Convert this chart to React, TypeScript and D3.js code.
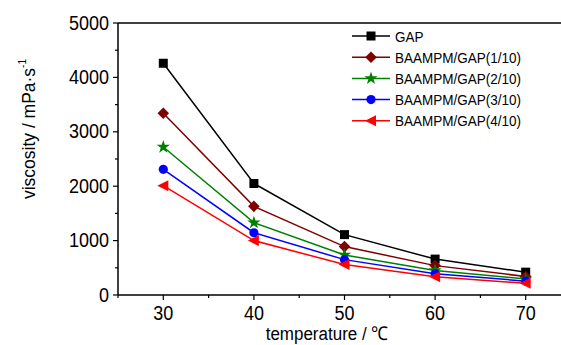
import * as d3 from "d3";

const temperatures = [30, 40, 50, 60, 70];
const gap = [4260, 2050, 1110, 660, 420];
const ratio110 = [3340, 1630, 890, 540, 340];
const ratio210 = [2720, 1330, 735, 450, 295];
const ratio310 = [2310, 1145, 650, 390, 255];
const ratio410 = [2010, 1000, 560, 335, 215];
const seriesNames = [
    "GAP",
    "BAAMPM/GAP(1/10)",
    "BAAMPM/GAP(2/10)",
    "BAAMPM/GAP(3/10)",
    "BAAMPM/GAP(4/10)",
];
const yTicks = [0, 1000, 2000, 3000, 4000, 5000];
const xTicks = [30, 40, 50, 60, 70];

const width = 561;
const height = 345;
const margin = { left: 118, top: 23, bottom: 50 };

const FONT = "'Liberation Sans', Arial, sans-serif";

// marker paths, centered at 0,0
const markerPath = (kind: string) => {
    switch (kind) {
        case "square":
            return "M-4.5,-4.5H4.5V4.5H-4.5Z";
        case "diamond":
            return "M0,-5.8L5.8,0L0,5.8L-5.8,0Z";
        case "star":
            return d3.symbol(d3.symbolStar, 55)()!;
        case "circle":
            return d3.symbol(d3.symbolCircle, 66)()!;
        default:
            return "M-6,0L5,-5.5L5,5.5Z";
    }
};

const App = () => {
    const x = d3.scaleLinear().domain([25, 75]).range([margin.left, 571]);
    const y = d3
        .scaleLinear()
        .domain([0, 5000])
        .range([height - margin.bottom, margin.top]);

    const series = [
        { name: seriesNames[0], values: gap, color: "#000000", marker: "square" },
        { name: seriesNames[1], values: ratio110, color: "#800000", marker: "diamond" },
        { name: seriesNames[2], values: ratio210, color: "#008000", marker: "star" },
        { name: seriesNames[3], values: ratio310, color: "#0000ff", marker: "circle" },
        { name: seriesNames[4], values: ratio410, color: "#ff0000", marker: "triangle" },
    ];

    const line = d3
        .line<number>()
        .x((_, i) => x(temperatures[i]))
        .y((d) => y(d));

    const x0 = margin.left;
    const yBottom = y(0);
    const yTop = y(5000);
    const xMinor = d3.range(25, 76, 10);
    const yMinor = d3.range(500, 5000, 1000);

    return (
        <svg width={width} height={height} style={{ position: "absolute", left: 0, top: 0, background: "#fff" }} fontFamily={FONT}>
            {/* frame: left, top, bottom */}
            <line x1={x0} x2={width} y1={yTop} y2={yTop} stroke="#000" strokeWidth={1.5} />
            <line x1={x0} x2={width} y1={yBottom} y2={yBottom} stroke="#000" strokeWidth={1.5} />
            <line x1={x0} x2={x0} y1={yTop} y2={yBottom} stroke="#000" strokeWidth={1.5} />

            {/* y ticks */}
            {yTicks.map((t) => (
                <g key={"y" + t}>
                    <line x1={x0 - 5} x2={x0} y1={y(t)} y2={y(t)} stroke="#000" strokeWidth={1.2} />
                    <text
                        transform={`translate(${x0 - 9},${y(t) + 6.5}) scale(1,1.15)`}
                        textAnchor="end"
                        fontSize={18}
                        fill="#000"
                    >
                        {t}
                    </text>
                </g>
            ))}
            {yMinor.map((t) => (
                <line key={"ym" + t} x1={x0 - 3} x2={x0} y1={y(t)} y2={y(t)} stroke="#000" strokeWidth={1.2} />
            ))}

            {/* x ticks */}
            {xTicks.map((t) => (
                <g key={"x" + t}>
                    <line x1={x(t)} x2={x(t)} y1={yBottom} y2={yBottom + 5} stroke="#000" strokeWidth={1.2} />
                    <text
                        transform={`translate(${x(t)},${yBottom + 25}) scale(1,1.15)`}
                        textAnchor="middle"
                        fontSize={18}
                        fill="#000"
                    >
                        {t}
                    </text>
                </g>
            ))}
            {xMinor.map((t) => (
                <line key={"xm" + t} x1={x(t)} x2={x(t)} y1={yBottom} y2={yBottom + 3} stroke="#000" strokeWidth={1.2} />
            ))}

            {/* axis titles */}
            <text
                transform={`translate(327,340) scale(1,1.12)`}
                textAnchor="middle"
                fontSize={17}
                fill="#000"
            >
                temperature / ℃
            </text>
            <text
                transform={`translate(35,129) rotate(-90) scale(1,1.1)`}
                textAnchor="middle"
                fontSize={17.5}
                fill="#000"
            >
                viscosity / mPa·s
                <tspan fontSize={10} dy={-8}>-1</tspan>
            </text>

            {/* series */}
            {series.map((s) => (
                <g key={s.name}>
                    <path d={line(s.values)!} fill="none" stroke={s.color} strokeWidth={1.5} />
                    {s.values.map((v, i) => (
                        <path
                            key={i}
                            d={markerPath(s.marker)}
                            transform={`translate(${x(temperatures[i])},${y(v)})`}
                            fill={s.color}
                        />
                    ))}
                </g>
            ))}

            {/* legend */}
            {series.map((s, i) => {
                const cy = 36 + i * 21.2;
                return (
                    <g key={"lg" + s.name}>
                        <line x1={352} x2={390} y1={cy} y2={cy} stroke={s.color} strokeWidth={1.5} />
                        <path d={markerPath(s.marker)} transform={`translate(371,${cy})`} fill={s.color} />
                        <text
                            transform={`translate(395,${cy + 5.5}) scale(1,1.15)`}
                            fontSize={13.5}
                            fill="#000"
                        >
                            {s.name}
                        </text>
                    </g>
                );
            })}
        </svg>
    );
};

export default App;
